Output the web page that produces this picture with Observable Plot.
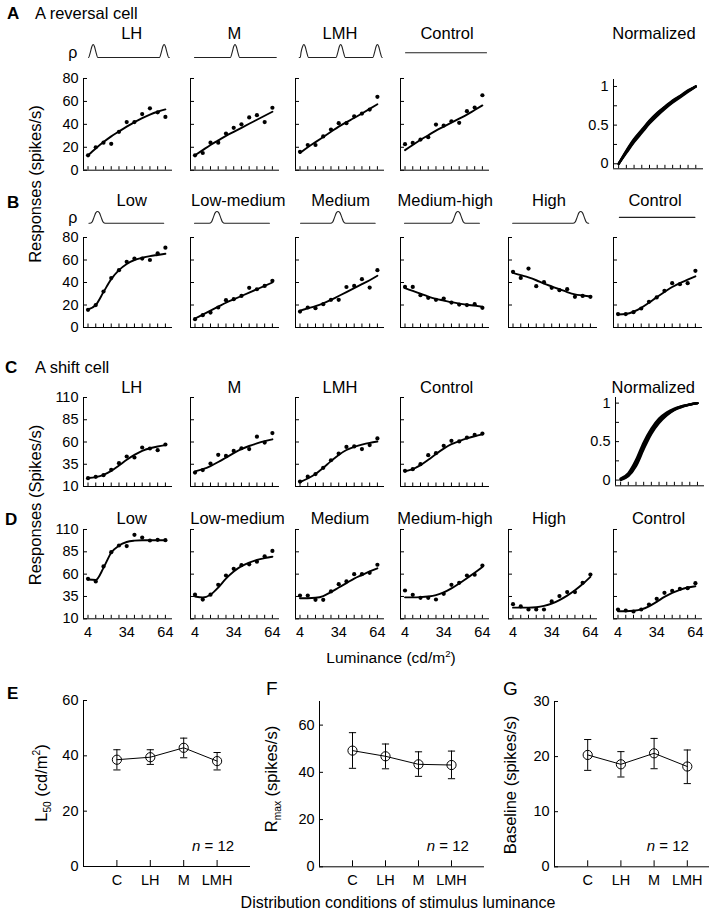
<!DOCTYPE html>
<html><head><meta charset="utf-8">
<script src="https://cdn.jsdelivr.net/npm/d3@7"></script>
<script src="https://cdn.jsdelivr.net/npm/@observablehq/plot@0.6"></script>
<style>
body{margin:0;background:#fff}
#fig{position:relative;width:709px;height:915px;overflow:hidden;font-family:"Liberation Sans",Arial,sans-serif;color:#000;background:#fff}
.t{position:absolute;white-space:nowrap;line-height:1}
.t sub,.t sup{font-size:62%}
</style>
</head><body><div id="fig"></div>
<script>
// ---------- data ----------
const lum = [4, 10, 16, 22, 28, 34, 40, 46, 52, 58, 64];
const lumLabels = [4, 34, 64];

// Row A (reversal cell, spikes/s)
const aLHPts   = [13, 20, 24, 23, 33.5, 42, 42, 49, 54, 50.5, 46.5];
const aLHFit   = [13, 19, 24.5, 29.5, 33.8, 38, 42, 45.5, 48.5, 51, 53];
const aMPts    = [13, 15, 24, 24, 32, 37, 40, 46, 48, 42, 54.5];
const aMFit    = [13, 17.5, 22, 26, 30, 33.5, 37, 40.5, 44, 47.5, 51];
const aLMHPts  = [16, 22, 22, 29.5, 35.5, 41, 41, 47, 49.4, 52.9, 64];
const aLMHFit  = [15, 20, 24.5, 29, 33.5, 38, 42, 45.5, 49.5, 53.5, 57.5];
const aCtrlPts = [22.7, 23.8, 26.7, 28.8, 39.8, 38.9, 42.7, 41.3, 51.5, 54.7, 65.4];
const aCtrlFit = [17.5, 22, 26.5, 30.5, 34.5, 38, 41.5, 45, 48.5, 52.5, 56.5];
const aNormLH   = [0, 0.17, 0.32, 0.44, 0.56, 0.66, 0.74, 0.82, 0.88, 0.95, 1];
const aNormM    = [0, 0.15, 0.29, 0.41, 0.53, 0.63, 0.72, 0.80, 0.87, 0.94, 1];
const aNormLMH  = [0, 0.16, 0.31, 0.43, 0.55, 0.65, 0.735, 0.81, 0.875, 0.94, 1];
const aNormCtrl = [0, 0.14, 0.28, 0.40, 0.52, 0.62, 0.71, 0.79, 0.86, 0.93, 1];

// Row B
const bLowPts  = [15.7, 19.9, 32, 43.9, 51, 58.4, 61.3, 61.3, 60, 66, 71];
const bLowFit  = [16, 20, 31.5, 43, 51, 56.5, 60, 62, 63.5, 64.5, 65.5];
const bLMPts   = [7.4, 11, 13.3, 17.8, 24.3, 25.2, 28.1, 35.3, 34, 37, 41.5];
const bLMFit   = [8, 11.5, 15, 18.5, 22, 25, 28, 31, 34, 37, 40];
const bMedPts  = [14.2, 17.8, 17.2, 20.7, 24.6, 24.6, 36, 37, 43, 35.5, 51];
const bMedFit  = [15, 17, 19, 21.5, 24.5, 28, 31.5, 35, 38.5, 42, 46];
const bMHPts   = [36.1, 36.1, 28.7, 26.4, 24.6, 25.8, 22.2, 20.4, 19.9, 20.7, 17.5];
const bMHFit   = [35, 32.5, 30, 27.5, 25.5, 24, 22.5, 21.2, 20.2, 19.4, 18.5];
const bHighPts = [49.5, 44.1, 52.4, 36.7, 40.3, 35.3, 33.2, 34.1, 27.3, 28.1, 27.3];
const bHighFit = [48.5, 46.5, 44.5, 42, 39, 36.5, 34, 31.5, 29.5, 28.5, 27.5];
const bCtrlPts = [11.9, 11.9, 13.6, 16.9, 22.8, 26.7, 32.6, 39.4, 38.5, 39.4, 50.4];
const bCtrlFit = [11.5, 12, 14, 17.5, 22, 27, 31.5, 36, 39.5, 42.5, 45.5];

// Row C (shift cell)
const cLHPts   = [19.4, 20.9, 22.7, 28.7, 36.2, 43.7, 42.6, 53.8, 52.7, 50.8, 57.2];
const cLHFit   = [19.5, 20.5, 23, 27.5, 33.5, 40, 45.5, 50, 53, 55, 56.5];
const cMPts    = [25.7, 28.4, 35.8, 45.6, 44.4, 50, 53, 52, 66, 59.4, 70];
const cMFit    = [27, 29.5, 33, 37.5, 42.5, 47.5, 52, 55.5, 58.5, 61, 63];
const cLMHPts  = [15.5, 21, 24, 31, 39.5, 47, 54.5, 55, 52, 56.5, 64];
const cLMHFit  = [15, 19, 24, 31, 38.5, 45.5, 51, 54.5, 57, 59, 60.5];
const cCtrlPts = [27.6, 29.5, 35.1, 45.2, 47.5, 55.7, 61.3, 60.6, 65, 68, 69.5];
const cCtrlFit = [27, 29.5, 34, 40, 46.5, 52.5, 57.5, 61, 64, 66.5, 68.5];
const cNormLH   = [0, 0.05, 0.18, 0.40, 0.60, 0.74, 0.84, 0.91, 0.95, 0.98, 1];
const cNormM    = [0.01, 0.07, 0.22, 0.45, 0.64, 0.77, 0.86, 0.92, 0.96, 0.98, 1];
const cNormLMH  = [0.02, 0.09, 0.26, 0.49, 0.67, 0.80, 0.88, 0.93, 0.96, 0.985, 1];
const cNormCtrl = [0.01, 0.06, 0.20, 0.43, 0.62, 0.76, 0.85, 0.915, 0.955, 0.98, 1];

// Row D
const dLowPts  = [54.8, 51.8, 68.6, 84.6, 92.1, 91.4, 104, 101, 97.7, 98.4, 98];
const dLowFit  = [54, 53.5, 67, 84, 92, 96, 97.5, 98, 98, 98, 98];
const dLMPts   = [37, 31.5, 37, 48, 58.5, 66, 70, 71, 74, 80, 86];
const dLMFit   = [35, 34, 37, 45, 55, 63, 69, 73, 76, 78, 79.5];
const dMedPts  = [36, 36, 31.3, 31.3, 40.6, 48.8, 51.8, 60, 60, 61.5, 70.5];
const dMedFit  = [33, 33, 33.5, 35.5, 40, 45, 50, 55, 59, 63, 66.5];
const dMHPts   = [41.7, 36.9, 33.5, 33.5, 31.6, 38, 48, 50.3, 58.5, 59.3, 69.7];
const dMHFit   = [34, 34, 34.3, 35, 36.5, 39.5, 44, 49.5, 55.5, 61.5, 68];
const dHighPts = [26.4, 23.8, 20.4, 20.4, 20.4, 29.4, 35.4, 39.9, 39.9, 50.3, 59.6];
const dHighFit = [22.5, 22.5, 22.5, 23, 24.5, 27, 31, 36, 42, 49, 57];
const dCtrlPts = [20.4, 19.3, 18.2, 20.4, 26, 32.4, 39.1, 41.3, 43.6, 44.3, 49.9];
const dCtrlFit = [18.5, 18.5, 19, 20.5, 24, 29, 34.5, 39, 42.5, 45, 46.5];

// Summary E/F/G
const conds = ["C", "LH", "M", "LMH"];
const l50Mean = [38.6, 39.5, 42.9, 38.1];
const l50Lo   = [34.9, 36.9, 39.3, 34.9];
const l50Hi   = [42.2, 42.2, 46.4, 41.2];
const rmaxMean = [49.2, 46.8, 43.4, 43.1];
const rmaxLo   = [41.7, 41.5, 38.3, 37.3];
const rmaxHi   = [56.8, 52.0, 48.7, 49.0];
const baseMean = [20.3, 18.6, 20.6, 18.2];
const baseLo   = [17.5, 16.3, 17.8, 15.1];
const baseHi   = [23.1, 20.9, 23.3, 21.2];

// Distribution icons (luminance positions of density peaks)
const bumpNarrow = [[-3.6,0],[-2.2,0.4],[-1,0.85],[0,1],[1,0.85],[2.2,0.4],[3.6,0]];
const bumpWide   = [[-6,0],[-4.2,0.12],[-2.8,0.5],[-1.3,0.9],[0,1],[1.3,0.9],[2.8,0.5],[4.2,0.12],[6,0]];
const iconsA = [
  {start: 4.5, end: 67, bumps: [8, 63]},
  {start: 3.6, end: 67, bumps: [35]},
  {start: 4.2, end: 67.7, bumps: [7, 35.5, 64]},
  {start: 4.4, end: 67.2, bumps: [], level: 0.36}
];
const iconsB = [
  {start: 4.7, end: 62.7, bumps: [11.4]},
  {start: 3.6, end: 61.7, bumps: [21]},
  {start: 4.4, end: 62.3, bumps: [33.6]},
  {start: 3.6, end: 61.7, bumps: [45]},
  {start: 3.7, end: 62.7, bumps: [56.5]},
  {start: 5, end: 63.7, bumps: [], level: 0.5}
];

// ---------- helpers ----------
const fig = document.getElementById("fig");
const FONT = '"Liberation Sans", Arial, sans-serif';
const baseStyle = {fontFamily: FONT, fontSize: "14.5px", background: "transparent", overflow: "visible", color: "#000"};

function place(svg, left, top) {
  svg.style.position = "absolute";
  svg.style.left = left + "px";
  svg.style.top = top + "px";
  svg.style.maxWidth = "none";
  fig.appendChild(svg);
}
function text(html, x, y, o = {}) {
  const d = document.createElement("div");
  d.className = "t";
  d.innerHTML = html;
  d.style.left = x + "px";
  d.style.top = y + "px";
  d.style.fontSize = (o.size || 16.5) + "px";
  if (o.bold) d.style.fontWeight = "bold";
  let tr = o.center ? "translate(-50%,-50%)" : "translate(0,-50%)";
  if (o.rotate) tr += " rotate(-90deg)";
  d.style.transform = tr;
  fig.appendChild(d);
}

function respPanel(p) {
  const ML = 40, MR = 12, MT = 4, MB = 26;
  const W = p.w || 89;
  const H = p.yBot - p.yTop;
  const xd = p.xd || [0.5, 69.5];
  const marks = [
    Plot.ruleX([xd[0]], {stroke: "#000", strokeWidth: 1}),
    Plot.ruleY([p.yd[0]], {stroke: "#000", strokeWidth: 1}),
    Plot.tickY(p.yticks, {y: d => d, insetRight: W - 4, stroke: "#000"}),
    Plot.tickX(lum, {x: d => d, insetTop: H - 3.5, stroke: "#000"})
  ];
  if (p.series) {
    const rows = [];
    p.series.forEach((s, k) => s.forEach((v, i) => rows.push({l: lum[i], v, k})));
    marks.push(Plot.line(rows, {x: "l", y: "v", z: "k", curve: "monotone-x", stroke: "#000", strokeWidth: 2.3}));
  } else {
    const rows = lum.map((l, i) => ({l, v: p.pts[i], f: p.fit[i]}));
    marks.push(Plot.line(rows, {x: "l", y: "f", curve: "monotone-x", stroke: "#000", strokeWidth: 1.9}));
    marks.push(Plot.dot(rows, {x: "l", y: "v", r: 2.1, fill: "#000"}));
  }
  if (p.ylabels) marks.push(Plot.axisY({ticks: p.ylabels, tickSize: 0, tickPadding: 5, label: null, tickFormat: d => String(d)}));
  if (p.xlabels) marks.push(Plot.axisX({ticks: p.xlabels, tickSize: 0, tickPadding: 8, label: null, tickFormat: d => String(d)}));
  const xOpt = {domain: xd}; if (!p.xlabels) xOpt.axis = null;
  const yOpt = {domain: p.yd}; if (!p.ylabels) yOpt.axis = null;
  const svg = Plot.plot({
    width: ML + W + MR, height: MT + H + MB,
    marginLeft: ML, marginRight: MR, marginTop: MT, marginBottom: MB,
    x: xOpt, y: yOpt, style: baseStyle, marks
  });
  place(svg, p.x0 - ML, p.yTop - MT);
}

function icon(spec, x0, yBase, yPeak, prof) {
  const W = 89;
  let pts = [];
  if (spec.level != null) {
    pts = [{x: spec.start, y: spec.level}, {x: spec.end, y: spec.level}];
  } else {
    let cur = spec.start;
    pts.push({x: cur, y: 0});
    for (const b of spec.bumps) {
      for (const [dx, h] of prof) pts.push({x: b + dx, y: h});
      cur = b + prof[prof.length - 1][0];
    }
    if (spec.end > cur) pts.push({x: spec.end, y: 0});
    pts.sort((a, b) => a.x - b.x);
  }
  const svg = Plot.plot({
    width: W, height: yBase - yPeak, margin: 0,
    x: {domain: [0.5, 69.5], axis: null}, y: {domain: [0, 1], axis: null},
    style: baseStyle,
    marks: [Plot.line(pts, {x: "x", y: "y", curve: "monotone-x", stroke: "#222", strokeWidth: 1.1})]
  });
  place(svg, x0, yPeak);
}

const capSym = {draw(ctx) { ctx.moveTo(-3.6, 0); ctx.lineTo(3.6, 0); }};
function summaryPanel(p) {
  const ML = 40, MR = 10, MT = 4, MB = 28;
  const W = p.w, H = p.yBot - p.yTop;
  const rows = conds.map((c, i) => ({i: i + 1, m: p.mean[i], lo: p.lo[i], hi: p.hi[i]}));
  const svg = Plot.plot({
    width: ML + W + MR, height: MT + H + MB,
    marginLeft: ML, marginRight: MR, marginTop: MT, marginBottom: MB,
    x: {domain: [0, 5]}, y: {domain: p.yd},
    style: baseStyle,
    marks: [
      Plot.ruleX([0], {stroke: "#000"}),
      Plot.ruleY([0], {stroke: "#000"}),
      Plot.tickY(p.yticks, {y: d => d, insetRight: W - 4, stroke: "#000"}),
      Plot.tickX([1, 2, 3, 4], {x: d => d, insetTop: H - 6, stroke: "#000"}),
      Plot.axisY({ticks: p.yticks, tickSize: 0, tickPadding: 5, label: null, tickFormat: d => String(d)}),
      Plot.axisX({ticks: [1, 2, 3, 4], tickSize: 0, tickPadding: 8, label: null, tickFormat: i => conds[i - 1]}),
      Plot.line(rows, {x: "i", y: "m", stroke: "#000", strokeWidth: 1}),
      Plot.ruleX(rows, {x: "i", y1: "lo", y2: "hi", stroke: "#000", strokeWidth: 1}),
      Plot.dot(rows, {x: "i", y: "lo", symbol: capSym, fill: "none", stroke: "#000", strokeWidth: 1}),
      Plot.dot(rows, {x: "i", y: "hi", symbol: capSym, fill: "none", stroke: "#000", strokeWidth: 1}),
      Plot.dot(rows, {x: "i", y: "m", r: 4.6, fill: "none", stroke: "#000", strokeWidth: 1})
    ]
  });
  place(svg, p.x0 - ML, p.yTop - MT);
}

// ---------- layout ----------
const rowAx = [82.7, 190, 295.3, 400];
const rowBx = [82.7, 190, 295, 400, 507.7, 613.3];
const t80 = [0, 20, 40, 60, 80];
const t110 = [10, 35, 60, 85, 110];
const tNorm = [0, 0.25, 0.5, 0.75, 1];

// Row A
[[aLHPts, aLHFit], [aMPts, aMFit], [aLMHPts, aLMHFit], [aCtrlPts, aCtrlFit]].forEach(([pts, fit], k) =>
  respPanel({x0: rowAx[k], yTop: 78.3, yBot: 170, yd: [0, 80], yticks: t80, ylabels: k === 0 ? t80 : null, pts, fit}));
respPanel({x0: 613.3, yTop: 79, yBot: 168.3, yd: [-0.065, 1.09], yticks: tNorm, ylabels: [0, 0.5, 1], w: 90, xd: [0, 70],
  series: [aNormLH, aNormM, aNormLMH, aNormCtrl]});
iconsA.forEach((s, k) => icon(s, rowAx[k], 57, 44, bumpNarrow));

// Row B
[[bLowPts, bLowFit], [bLMPts, bLMFit], [bMedPts, bMedFit], [bMHPts, bMHFit], [bHighPts, bHighFit], [bCtrlPts, bCtrlFit]].forEach(([pts, fit], k) =>
  respPanel({x0: rowBx[k], yTop: 236.7, yBot: 326.7, yd: [0, 80], yticks: t80, ylabels: k === 0 ? t80 : null, pts, fit}));
iconsB.forEach((s, k) => icon(s, rowBx[k], 222.7, 211, bumpWide));

// Row C
[[cLHPts, cLHFit], [cMPts, cMFit], [cLMHPts, cLMHFit], [cCtrlPts, cCtrlFit]].forEach(([pts, fit], k) =>
  respPanel({x0: rowBx[k], yTop: 396.7, yBot: 485.7, yd: [10, 110], yticks: t110, ylabels: k === 0 ? t110 : null, pts, fit}));
respPanel({x0: 615, yTop: 396.7, yBot: 485, yd: [-0.074, 1.073], yticks: tNorm, ylabels: [0, 0.5, 1], w: 89, xd: [0, 69.5],
  series: [cNormLH, cNormM, cNormLMH, cNormCtrl]});

// Row D
[[dLowPts, dLowFit], [dLMPts, dLMFit], [dMedPts, dMedFit], [dMHPts, dMHFit], [dHighPts, dHighFit], [dCtrlPts, dCtrlFit]].forEach(([pts, fit], k) =>
  respPanel({x0: rowBx[k], yTop: 529, yBot: 618.3, yd: [10, 110], yticks: t110, ylabels: k === 0 ? t110 : null, xlabels: lumLabels, pts, fit}));

// Summary
summaryPanel({x0: 82.7, yTop: 700, yBot: 866, w: 167, yd: [0, 60], yticks: [0, 20, 40, 60], mean: l50Mean, lo: l50Lo, hi: l50Hi});
summaryPanel({x0: 319.3, yTop: 700.7, yBot: 866, w: 165, yd: [0, 70], yticks: [0, 20, 40, 60], mean: rmaxMean, lo: rmaxLo, hi: rmaxHi});
summaryPanel({x0: 554.3, yTop: 700.7, yBot: 866, w: 166, yd: [0, 30], yticks: [0, 10, 20, 30], mean: baseMean, lo: baseLo, hi: baseHi});

// ---------- text ----------
text("A", 7, 13, {bold: true, size: 17});
text("A reversal cell", 35, 13);
[["LH", 131.7], ["M", 234.3], ["LMH", 340], ["Control", 447], ["Normalized", 654]].forEach(([s, x]) => text(s, x, 33, {center: true}));
text("ρ", 72.7, 53, {center: true, size: 16});
text("B", 7, 201.5, {bold: true, size: 17});
[["Low", 131.7], ["Low-medium", 238.3], ["Medium", 340.7], ["Medium-high", 445.3], ["High", 549], ["Control", 655]].forEach(([s, x]) => text(s, x, 200, {center: true}));
text("ρ", 72.7, 217.7, {center: true, size: 16});
text("C", 5, 367, {bold: true, size: 17});
text("A shift cell", 35, 366.7);
[["LH", 131.7], ["M", 234.3], ["LMH", 340], ["Control", 446.7], ["Normalized", 653.3]].forEach(([s, x]) => text(s, x, 386.7, {center: true}));
text("D", 5, 519, {bold: true, size: 17});
[["Low", 131.7], ["Low-medium", 237.5], ["Medium", 340], ["Medium-high", 445], ["High", 549], ["Control", 658.5]].forEach(([s, x]) => text(s, x, 517.7, {center: true}));
text("Responses (spikes/s)", 35, 184, {center: true, rotate: true});
text("Responses (Spikes/s)", 35, 505, {center: true, rotate: true});
text("Luminance (cd/m<sup>2</sup>)", 391, 657, {center: true, size: 15.5});

text("E", 7, 693, {bold: true, size: 17});
text("F", 266, 688, {size: 19});
text("G", 503, 688, {size: 19});
text("L<sub>50</sub> (cd/m<sup>2</sup>)", 42.7, 783, {center: true, rotate: true});
text("R<sub>max</sub> (spikes/s)", 272.5, 779, {center: true, rotate: true});
text("Baseline (spikes/s)", 510, 785, {center: true, rotate: true});
text("<i>n</i> = 12", 192, 845, {size: 15});
text("<i>n</i> = 12", 426.7, 845, {size: 15});
text("<i>n</i> = 12", 646.7, 845, {size: 15});
text("Distribution conditions of stimulus luminance", 398, 903, {center: true, size: 16});
</script>
</body></html>
